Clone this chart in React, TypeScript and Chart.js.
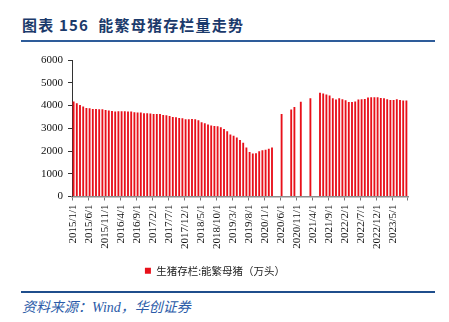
import React, { useEffect, useRef } from "react";
import { Chart, registerables } from "chart.js";

Chart.register(...registerables);

// Monthly fertile sow inventory (万头), 2015/1 .. 2023/9; null = no data
const v2015 = [4172, 4099, 4026, 3952, 3894, 3879, 3850, 3850, 3836, 3836, 3806, 3777];
const v2016 = [3762, 3733, 3748, 3748, 3748, 3733, 3733, 3704, 3689, 3689, 3660, 3660];
const v2017 = [3645, 3631, 3631, 3631, 3587, 3572, 3543, 3499, 3484, 3455, 3440, 3396];
const v2018 = [3396, 3411, 3396, 3353, 3265, 3221, 3162, 3118, 3104, 3089, 3040, 2970];
const v2019 = [2870, 2723, 2665, 2591, 2489, 2365, 2152, 1955, 1889, 1904, 1992, 2036];
const v2020 = [2058, 2094, 2152, null, null, 3629, null, null, 3822, 3938, null, 4161];
const v2021 = [null, null, 4318, null, null, 4564, 4523, 4479, 4435, 4318, 4260, 4318];
const v2022 = [4274, 4230, 4157, 4157, 4172, 4260, 4274, 4289, 4347, 4362, 4362, 4362];
const v2023 = [4333, 4318, 4274, 4245, 4245, 4274, 4245, 4216, 4216];

const seriesValues: (number | null)[] = [
  ...v2015, ...v2016, ...v2017, ...v2018, ...v2019,
  ...v2020, ...v2021, ...v2022, ...v2023,
];

const startYear = 2015;
const categories: string[] = seriesValues.map((_, i) => {
  const y = startYear + Math.floor(i / 12);
  const m = (i % 12) + 1;
  return `${y}/${m}/1`;
});

const labelEvery = 5;
const seriesName = "生猪存栏:能繁母猪（万头）";
const yTicks = [0, 1000, 2000, 3000, 4000, 5000, 6000];

export default function App() {
  const ref = useRef<HTMLCanvasElement | null>(null);

  useEffect(() => {
    if (!ref.current) return;
    const chart = new Chart(ref.current, {
      type: "bar",
      data: {
        labels: categories,
        datasets: [
          {
            label: seriesName,
            data: seriesValues,
            backgroundColor: "#E8101A",
            barPercentage: 0.58,
            categoryPercentage: 1,
          },
        ],
      },
      options: {
        animation: false,
        responsive: false,
        layout: { padding: { left: 22, right: 41, top: 60, bottom: 4 } },
        plugins: {
          tooltip: { enabled: false },
          legend: {
            position: "bottom",
            labels: {
              boxWidth: 6,
              boxHeight: 6,
              padding: 10,
              color: "#222",
              font: { family: "'Noto Sans CJK SC'", size: 10.5 },
            },
          },
        },
        scales: {
          x: {
            type: "category",
            offset: true,
            afterFit: (s: any) => {
              s.height = 59;
            },
            grid: {
              offset: true,
              drawOnChartArea: false,
              drawTicks: true,
              tickLength: 4,
              color: (ctx: any) =>
                ctx.index === undefined || ctx.index % labelEvery === 0
                  ? "#777"
                  : "rgba(0,0,0,0)",
            },
            border: { display: true, color: "#8c8c8c", width: 1.5 },
            ticks: {
              autoSkip: false,
              maxRotation: 90,
              minRotation: 90,
              padding: 4,
              color: "#111",
              font: { family: "'Liberation Serif'", size: 11 },
              callback: (_v: any, i: number) =>
                i % labelEvery === 0 ? categories[i] : "",
            },
          },
          y: {
            min: 0,
            max: 6000,
            afterFit: (s: any) => {
              s.width = 50;
            },
            afterBuildTicks: (s: any) => {
              s.ticks = yTicks.map((v) => ({ value: v }));
            },
            grid: {
              drawOnChartArea: false,
              drawTicks: true,
              tickLength: 4,
              color: "#333",
            },
            border: { display: true, color: "#333", width: 1 },
            ticks: {
              padding: 5,
              color: "#111",
              font: { family: "'Liberation Serif'", size: 11 },
              callback: (v: any) => String(v),
            },
          },
        },
      },
    });
    return () => chart.destroy();
  }, []);

  return (
    <div
      style={{
        position: "absolute",
        left: 0,
        top: 0,
        width: 449,
        height: 322,
        background: "#fff",
        overflow: "hidden",
      }}
    >
      <div
        style={{
          position: "absolute",
          left: 22,
          top: 14,
          fontFamily: "'Noto Sans CJK SC', sans-serif",
          fontWeight: 700,
          fontSize: 15,
          letterSpacing: 1.2,
          color: "#1B3A6B",
          whiteSpace: "nowrap",
          lineHeight: "22px",
        }}
      >
        图表 156&nbsp;&nbsp;能繁母猪存栏量走势
      </div>
      <div
        style={{
          position: "absolute",
          left: 21,
          top: 40,
          width: 414,
          height: 2,
          background: "#2E5C9A",
        }}
      />
      <canvas
        ref={ref}
        width={449}
        height={290}
        style={{ position: "absolute", left: 0, top: 0, width: 449, height: 290 }}
      />
      <div
        style={{
          position: "absolute",
          left: 21,
          top: 291,
          width: 414,
          height: 2,
          background: "#1F4E8C",
        }}
      />
      <div
        style={{
          position: "absolute",
          left: 22,
          top: 299,
          fontFamily: "'Liberation Serif', 'Noto Sans CJK SC', serif",
          fontStyle: "italic",
          fontSize: 14,
          color: "#2B5BA8",
          whiteSpace: "nowrap",
          lineHeight: "18px",
        }}
      >
        资料来源：Wind，华创证券
      </div>
    </div>
  );
}
